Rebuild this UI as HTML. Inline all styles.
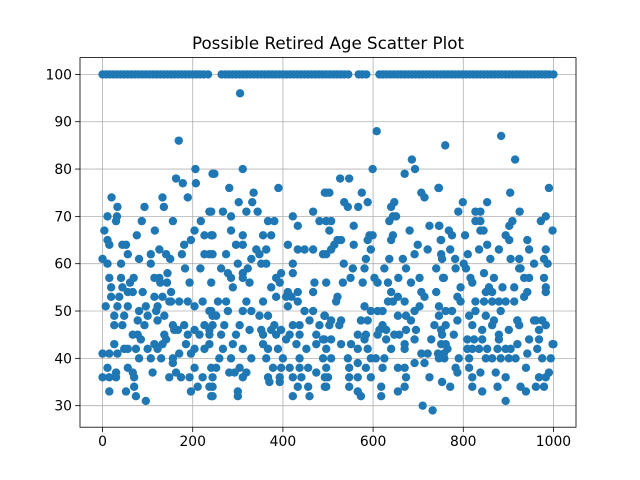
<!DOCTYPE html>
<html><head><meta charset="utf-8"><style>
html,body{margin:0;padding:0;background:#fff}
svg{display:block;font-family:"DejaVu Sans","Liberation Sans",sans-serif}
</style></head><body>
<svg id="chart" width="640" height="480" viewBox="0 0 640 480">
<rect width="640" height="480" fill="#fff"/>
<text x="328" y="49" text-anchor="middle" font-size="16.7" fill="#000">Possible Retired Age Scatter Plot</text>
<g id="grid"></g><g id="pts"></g><g id="axes"></g>
</svg>
<script>
const xTicks=[0,200,400,600,800,1000];
const yTicks=[30,40,50,60,70,80,90,100];
const topX=[0,8,16,24,32,40,48,56,64,72,80,88,96,104,112,120,128,136,144,152,160,168,176,184,192,200,208,216,224,234,
264,272,280,288,296,304,312,320,328,336,344,352,360,368,376,384,392,400,408,416,424,432,440,448,456,464,472,480,488,496,504,512,520,528,536,545,
568,576,585,
614,622,630,638,646,654,662,670,678,686,694,702,710,718,726,734,742,750,758,766,774,782,790,798,806,814,822,830,838,846,854,862,870,878,886,894,902,910,918,926,934,942,950,958,966,974,982,990,1000];
const lowPoints=[
[169,86],[206,80],[244,79],[163,78],[178,77],[207,77],[20,74],[133,74],[189,74],[33,72],[93,72],[136,72],[11,70],[32,70],[30,69],[87,69],[156,69],[218,69],[237,71],[4,67],[116,67],[204,67],[76,66],[11,65],[15,64],[44,64],[52,64],[181,64],[196,65],[226,66],[241,66],[56,62],[0,61],[11,60],[41,60],[81,61],[107,62],[126,63],[141,62],[150,61],[107,60],[176,62],[226,62],[237,62],[15,57],[41,57],[69,57],[115,57],[126,57],[144,58],[183,59],[217,59],[193,56],[19,55],[44,55],[61,56],[128,56],[143,56],[19,53],[37,53],[56,54],[67,54],[89,54],[115,53],[133,53],[152,54],[152,52],[7,51],[33,51],[56,51],[96,51],[122,51],[148,52],[170,52],[189,52],[204,51],[222,52],[241,50],[26,49],[48,49],[81,50],[100,49],[119,50],[137,49],[26,47],[44,47],[78,48],[93,47],[122,48],[156,47],[167,46],[181,47],[204,46],[226,47],[244,49],[78,45],[137,45],[159,46],[67,45],[85,44],[115,43],[133,43],[189,45],[215,45],[237,46],[26,43],[48,42],[74,42],[100,42],[122,42],[141,44],[185,43],[204,42],[226,42],[0,41],[15,41],[33,41],[56,42],[81,40],[107,40],[130,40],[156,40],[170,41],[196,41],[156,39],[163,37],[174,36],[193,36],[11,38],[30,37],[56,38],[67,37],[0,36],[15,36],[30,36],[70,36],[111,37],[148,36],[204,38],[222,36],[241,38],[15,33],[52,33],[70,34],[74,32],[96,31],[196,33],[211,34],[237,34],[241,32],
[305,96],[248,79],[311,80],[281,76],[335,75],[390,76],[302,73],[332,73],[493,75],[241,71],[267,71],[285,70],[319,71],[344,71],[367,69],[381,69],[422,70],[433,68],[467,71],[481,69],[496,69],[244,66],[285,67],[311,66],[356,66],[374,66],[411,64],[433,63],[448,63],[467,63],[489,62],[244,62],[274,62],[296,64],[311,64],[341,63],[348,62],[363,63],[330,61],[352,60],[300,60],[363,60],[422,60],[263,59],[278,58],[285,57],[311,58],[322,59],[385,57],[396,58],[422,58],[241,56],[289,55],[311,57],[326,56],[374,55],[393,56],[411,54],[419,53],[433,54],[470,56],[467,54],[385,53],[407,53],[433,52],[256,52],[274,52],[319,52],[356,52],[411,51],[237,50],[252,49],[278,50],[311,50],[330,50],[348,49],[367,49],[381,47],[448,50],[467,50],[493,49],[244,47],[270,47],[304,47],[326,46],[352,46],[374,46],[396,46],[422,47],[437,47],[459,48],[481,47],[237,45],[263,45],[296,45],[356,45],[385,45],[415,45],[437,45],[474,45],[489,44],[237,43],[267,42],[289,43],[311,42],[356,43],[367,42],[389,42],[407,44],[430,43],[452,42],[474,43],[496,42],[259,40],[285,40],[330,40],[363,40],[400,40],[437,40],[489,40],[252,38],[281,37],[304,38],[319,37],[378,38],[396,38],[415,38],[437,38],[456,38],[244,36],[293,37],[311,36],[367,36],[393,36],[422,36],[441,36],[474,37],[493,36],[244,34],[300,33],[370,35],[393,35],[433,34],[456,34],[493,34],[244,32],[300,32],[422,32],[459,32],
[608,88],[686,82],[670,79],[693,80],[599,80],[527,78],[547,78],[707,75],[714,74],[745,76],[496,75],[503,75],[575,75],[536,73],[544,72],[567,72],[588,73],[647,73],[640,72],[644,70],[651,70],[636,69],[496,69],[507,69],[503,67],[557,68],[592,66],[599,66],[595,63],[644,66],[640,65],[681,67],[725,68],[747,68],[521,65],[529,65],[514,64],[507,63],[496,62],[557,64],[588,65],[699,64],[692,62],[721,63],[751,65],[751,62],[584,61],[636,61],[666,61],[535,60],[555,59],[581,59],[625,59],[673,59],[740,59],[755,57],[603,57],[610,56],[656,57],[703,57],[550,57],[533,56],[496,56],[577,56],[633,56],[684,56],[707,54],[714,53],[740,54],[521,53],[518,52],[640,54],[644,52],[633,52],[655,53],[670,52],[581,51],[610,50],[621,50],[703,51],[692,50],[655,49],[684,48],[673,49],[492,49],[507,48],[529,48],[503,47],[525,47],[573,48],[588,48],[595,50],[621,47],[629,46],[614,46],[673,46],[695,46],[736,47],[751,46],[566,45],[584,45],[610,45],[629,44],[647,45],[492,44],[507,44],[529,43],[551,43],[581,44],[658,45],[670,43],[692,44],[729,44],[751,43],[566,42],[588,42],[640,42],[625,40],[606,40],[595,40],[544,40],[507,40],[670,42],[707,41],[721,41],[744,41],[758,40],[496,38],[547,38],[566,39],[584,38],[621,38],[655,38],[670,38],[692,39],[714,39],[725,36],[500,36],[547,36],[566,36],[595,36],[673,36],[547,34],[566,33],[573,32],[618,34],[618,32],[655,33],[670,34],[496,34],[710,30],[732,29],
[884,87],[760,85],[915,82],[746,76],[904,75],[990,76],[799,73],[853,73],[789,71],[827,71],[838,71],[925,71],[827,69],[838,69],[838,67],[845,67],[909,69],[902,68],[972,69],[983,70],[998,67],[746,68],[768,67],[775,66],[804,66],[894,66],[902,65],[942,65],[750,65],[771,63],[782,61],[835,63],[853,64],[860,61],[879,63],[905,61],[946,63],[983,63],[979,61],[753,61],[801,60],[806,59],[810,62],[924,61],[924,59],[957,60],[987,60],[757,57],[783,59],[794,55],[816,57],[820,56],[846,58],[868,57],[857,55],[887,55],[913,55],[927,59],[935,57],[946,57],[979,57],[983,55],[983,54],[942,54],[935,53],[850,54],[864,54],[787,53],[794,52],[827,52],[846,52],[864,52],[879,52],[894,52],[913,52],[746,51],[761,50],[775,50],[827,50],[850,49],[868,48],[883,50],[920,48],[957,48],[975,48],[746,49],[761,47],[787,48],[813,49],[820,47],[842,46],[864,47],[901,46],[924,47],[920,48],[961,48],[968,46],[983,47],[753,45],[761,43],[779,45],[809,44],[824,44],[842,44],[879,45],[879,44],[905,42],[920,43],[946,44],[968,44],[998,43],[765,42],[809,42],[820,42],[835,42],[853,42],[876,42],[894,42],[746,40],[757,41],[790,40],[813,40],[850,40],[864,40],[883,40],[901,40],[916,40],[942,41],[964,42],[975,40],[994,40],[783,38],[787,37],[813,38],[820,36],[838,37],[872,37],[894,36],[939,38],[968,36],[983,36],[990,37],[753,35],[771,34],[820,34],[842,33],[876,34],[927,34],[939,33],[961,34],[979,34],[894,31],[1000,43]
];
const X0=-50,X1=1050,Y0=25.45,Y1=103.55,L=80,R=576,T=57.6,B=427.2;
function sx(v){return L+(v-X0)/(X1-X0)*(R-L);}
function sy(v){return B-(v-Y0)/(Y1-Y0)*(B-T);}
const NS='http://www.w3.org/2000/svg';
function mk(tag,attrs,parent){const e=document.createElementNS(NS,tag);for(const k in attrs)e.setAttribute(k,attrs[k]);parent.appendChild(e);return e;}
const grid=document.getElementById('grid'),pts=document.getElementById('pts'),axes=document.getElementById('axes');
xTicks.forEach(t=>{
 const x=sx(t);
 const g=mk('line',{x1:x,x2:x,y1:T,y2:B,stroke:'#b0b0b0','stroke-width':0.8},grid);
 
 
 const tk=mk('line',{x1:x,x2:x,y1:B,y2:B+4.9,stroke:'#000','stroke-width':0.8},axes);
 
 
 const lb=mk('text',{x:x,y:B+19,'text-anchor':'middle','font-size':13.9,fill:'#000'},axes);
 lb.textContent=t;
 
 
});
yTicks.forEach(t=>{
 const y=sy(t);
 const g=mk('line',{x1:L,x2:R,y1:y,y2:y,stroke:'#b0b0b0','stroke-width':0.8},grid);
 
 
 const tk=mk('line',{x1:L-4.9,x2:L,y1:y,y2:y,stroke:'#000','stroke-width':0.8},axes);
 
 
 const lb=mk('text',{x:L-8,y:y+5,'text-anchor':'end','font-size':13.9,fill:'#000'},axes);
 lb.textContent=t;
 
 
});
const frame=mk('rect',{x:L,y:T,width:R-L,height:B-T,fill:'none',stroke:'#000','stroke-width':0.8},axes);


topX.forEach(v=>{
 const c=mk('circle',{cx:sx(v),cy:sy(100),r:4.2,fill:'#1f77b4'},pts);
 
 
});
lowPoints.forEach(p=>{
 const c=mk('circle',{cx:sx(p[0]),cy:sy(p[1]),r:4.2,fill:'#1f77b4'},pts);
 
 
});
</script>
</body></html>
